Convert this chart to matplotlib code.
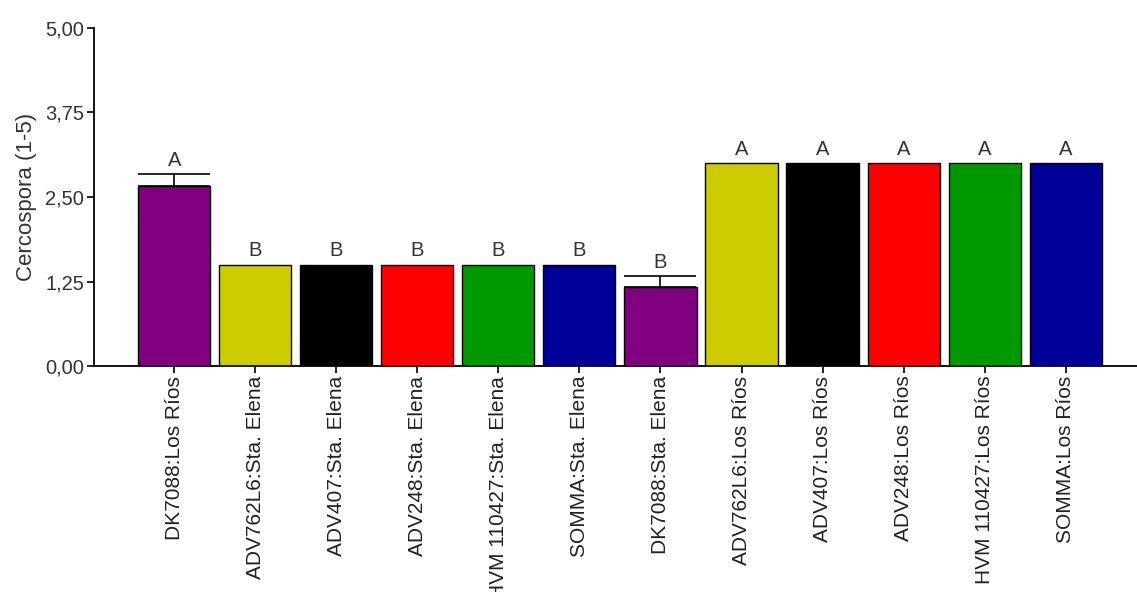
import matplotlib.pyplot as plt

plt.rcParams["font.family"] = ["Liberation Sans", "DejaVu Sans"]

# ---------- datos ----------
labels = [
    "DK7088:Los Ríos", "ADV762L6:Sta. Elena", "ADV407:Sta. Elena",
    "ADV248:Sta. Elena", "HVM 110427:Sta. Elena", "SOMMA:Sta. Elena",
    "DK7088:Sta. Elena", "ADV762L6:Los Ríos", "ADV407:Los Ríos",
    "ADV248:Los Ríos", "HVM 110427:Los Ríos", "SOMMA:Los Ríos",
]
means = [2.67, 1.50, 1.50, 1.50, 1.50, 1.50, 1.17, 3.00, 3.00, 3.00, 3.00, 3.00]
errors = [0.17, 0, 0, 0, 0, 0, 0.16, 0, 0, 0, 0, 0]
groups = ["A", "B", "B", "B", "B", "B", "B", "A", "A", "A", "A", "A"]
colors = ["#800080", "#CCCC00", "#000000", "#FF0000", "#009900", "#000099",
          "#800080", "#CCCC00", "#000000", "#FF0000", "#009900", "#000099"]
yticks = [0, 1.25, 2.5, 3.75, 5.0]
yticklabels = ["0,00", "1,25", "2,50", "3,75", "5,00"]

fig = plt.figure(figsize=(11.37, 5.92), dpi=100)
ax = fig.add_axes([94 / 1137, 226 / 592, 1043 / 1137, 338 / 592])

x = list(range(len(labels)))
ax.bar(x, means, width=0.89, color=colors, edgecolor="black", linewidth=1, zorder=2)

# barras de error (solo hacia arriba)
for xi, m, e in zip(x, means, errors):
    if e > 0:
        ax.errorbar(xi, m, yerr=[[0], [e]], fmt="none", ecolor="black",
                    elinewidth=1.2, capsize=26, capthick=1.2, zorder=3)

# letras de significancia
for xi, m, e, g in zip(x, means, errors, groups):
    ax.annotate(g, (xi, m + e), xytext=(0, 3), textcoords="offset points",
                ha="center", va="bottom", fontsize=14.5, color="#333333")

ax.set_xlim(-0.99, 11.88)
ax.set_ylim(0, 5)
ax.set_yticks(yticks)
ax.set_yticklabels(yticklabels, fontsize=14.5, color="#333333")
ax.set_xticks(x)
ax.set_xticklabels(labels, rotation=90, fontsize=15, color="#222222")
ax.set_ylabel("Cercospora (1-5)", fontsize=16, color="#333333", labelpad=6)

for s in ["top", "right"]:
    ax.spines[s].set_visible(False)
for s in ["left", "bottom"]:
    ax.spines[s].set_linewidth(1.3)
ax.tick_params(axis="both", direction="out", length=5, width=1.2, pad=2)

plt.savefig("out.png", dpi=100)
